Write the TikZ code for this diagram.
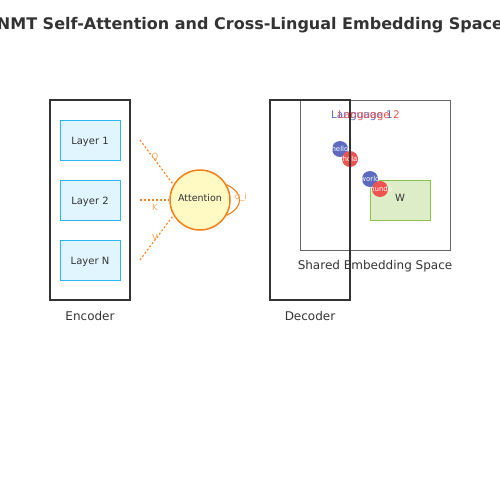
\documentclass[tikz,border=0pt]{standalone}
\usepackage{fontspec}
\setmainfont{DejaVu Sans}
\usepackage{tikz}
\usetikzlibrary{positioning, calc}
\definecolor{ink}{HTML}{333333}
\definecolor{layerfill}{HTML}{E1F5FE}
\definecolor{layerline}{HTML}{29B6F6}
\definecolor{attfill}{HTML}{FFF9C4}
\definecolor{attline}{HTML}{F57F17}
\definecolor{langone}{HTML}{5C6BC0}
\definecolor{langtwo}{HTML}{EF5350}
\definecolor{wfill}{HTML}{DCEDC8}
\definecolor{wline}{HTML}{8BC34A}

\begin{document}
\begin{tikzpicture}[x=1pt,y=-1pt,
		block/.style={draw=ink, line width=1.5pt, minimum width=80pt, minimum height=200pt},
		layerbox/.style={draw=layerline, fill=layerfill, line width=0.8pt, minimum width=60pt, minimum height=40pt, text=ink, text height=10pt, text depth=1pt, font=\fontsize{10}{12}\selectfont},
		caption/.style={text=ink, font=\fontsize{12}{14}\selectfont},
		qkv/.style={draw=attline, dash pattern=on 2pt off 2pt, line width=1.1pt},
		qkvlabel/.style={text=attline!70, font=\fontsize{8.5}{10}\selectfont},
		word/.style={circle, inner sep=0pt, minimum size=16pt},
		wordtext/.style={text=white, inner sep=0pt, font=\fontsize{7}{8}\selectfont}]
	\useasboundingbox (0,0) rectangle (500,500);
	\node[font=\fontsize{16}{19}\selectfont\bfseries, text=ink] (title) at (250,25) {NMT Self-Attention and Cross-Lingual Embedding Space};
	% encoder
	\node[block] (enc) at (90,200) {};
	\foreach \n/\y/\t in {l1/140/Layer 1, l2/200/Layer 2, ln/260/Layer N}
		\node[layerbox] (\n) at (90,\y) {\t};
	\node[caption] (enclabel) at (90,316) {Encoder};
	% attention
	\node[circle, draw=attline, fill=attfill, line width=1.5pt, minimum size=60pt, inner sep=0pt, text=ink, text height=4pt, text depth=2pt, font=\fontsize{9.5}{11}\selectfont] (att) at (200,200) {Attention};
	\coordinate (q0) at (140,140);
	\coordinate (k0) at (140,200);
	\coordinate (v0) at (140,260);
	\draw[qkv] (q0) -- (att.150);
	\draw[qkv] (k0) -- (att.west);
	\draw[qkv] (v0) -- (att.210);
	\node[qkvlabel] (ql) at (155,157) {Q};
	\node[qkvlabel] (kl) at (155,207) {K};
	\node[qkvlabel] (vl) at (155,237) {V};
	\draw[attline, line width=1.1pt] (att.30) .. controls (244,193) and (244,207) .. (att.-30);
	\node[text=attline!70, font=\fontsize{8.5}{10}\selectfont] (alpha) at (241,197) {α\_i};
	% shared embedding space
	\node[draw=ink!75, line width=0.8pt, minimum width=150pt, minimum height=150pt] (emb) at (375,175) {};
	\node[caption] (emblabel) at (375,266) {Shared Embedding Space};
	\node[text=langone, font=\fontsize{10.5}{12}\selectfont] (lang1) at (362,116) {Language 1};
	\node[text=langtwo, font=\fontsize{10.5}{12}\selectfont] (lang2) at (369,116) {Language 2};
	\node[draw=wline, fill=wfill, line width=0.8pt, minimum width=60pt, minimum height=40pt, text=ink, text height=5pt, text depth=3pt, font=\fontsize{10}{12}\selectfont] (w) at (400,200) {W};
	\foreach \n/\x/\y/\c in {hello/340/149/langone, hola/350/159/langtwo, world/370/179/langone, mundo/380/189/langtwo}
	{
		\node[word, fill=\c] (\n) at (\x,\y) {};
		\node[wordtext] at (\n) {\n};
	}
	% decoder
	\node[block] (dec) at (310,200) {};
	\node[caption] (declabel) at (310,316) {Decoder};
\end{tikzpicture}
\end{document}
